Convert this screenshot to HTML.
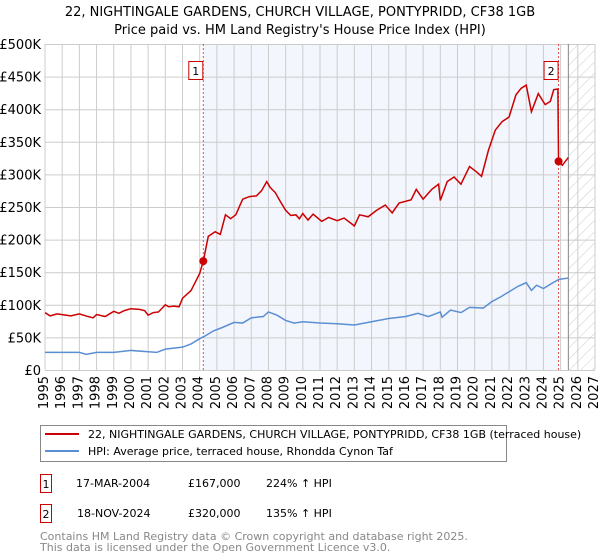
<!DOCTYPE html>
<html><head><meta charset="utf-8"><style>
body{margin:0;background:#fff;font-family:"DejaVu Sans","Liberation Sans",sans-serif;}
svg text{font-family:"DejaVu Sans","Liberation Sans",sans-serif;}
#wrap{position:relative;width:600px;height:560px;overflow:hidden;}
.xl{position:absolute;font-size:13px;line-height:13px;height:40px;width:14px;text-align:right;writing-mode:vertical-rl;writing-mode:sideways-lr;white-space:nowrap;color:#000;}
</style></head><body>
<div id="wrap">
<svg id="c" width="600" height="560" viewBox="0 0 600 560" xmlns="http://www.w3.org/2000/svg" style="position:absolute;left:0;top:0">
<defs><pattern id="hatch" width="8" height="8" patternUnits="userSpaceOnUse" patternTransform="rotate(45)"><line x1="0" y1="0" x2="0" y2="8" stroke="#ccc" stroke-width="1"/></pattern></defs>
<text x="300" y="16" text-anchor="middle" font-size="13" fill="#000">22, NIGHTINGALE GARDENS, CHURCH VILLAGE, PONTYPRIDD, CF38 1GB</text>
<text x="300" y="34" text-anchor="middle" font-size="13" fill="#000">Price paid vs. HM Land Registry's House Price Index (HPI)</text>
<g id="plot"></g>
<g>
<rect x="40.5" y="425.5" width="466" height="36" fill="#fff" stroke="#888"/>
<line x1="45" y1="434" x2="79" y2="434" stroke="#cc0000" stroke-width="2"/>
<text x="88" y="438" font-size="11">22, NIGHTINGALE GARDENS, CHURCH VILLAGE, PONTYPRIDD, CF38 1GB (terraced house)</text>
<line x1="45" y1="451" x2="79" y2="451" stroke="#5b8fd4" stroke-width="2"/>
<text x="88" y="455" font-size="11">HPI: Average price, terraced house, Rhondda Cynon Taf</text>
</g>
<g font-size="11">
<rect x="40.5" y="474.5" width="11" height="18" fill="#fff" stroke="#cc0000"/><text x="46" y="488" text-anchor="middle">1</text>
<text x="76" y="487">17-MAR-2004</text><text x="188" y="487">£167,000</text><text x="266" y="487">224% ↑ HPI</text>
<rect x="40.5" y="504.5" width="11" height="18" fill="#fff" stroke="#cc0000"/><text x="46" y="518" text-anchor="middle">2</text>
<text x="77" y="517">18-NOV-2024</text><text x="188" y="517">£320,000</text><text x="266" y="517">135% ↑ HPI</text>
</g>
<text x="40" y="540" font-size="11" fill="#888">Contains HM Land Registry data © Crown copyright and database right 2025.</text>
<text x="40" y="551" font-size="11" fill="#888">This data is licensed under the Open Government Licence v3.0.</text>
</svg>
</div>
<script>
const yTicks=[0,50,100,150,200,250,300,350,400,450,500];
const yTickLabels=["£0","£50K","£100K","£150K","£200K","£250K","£300K","£350K","£400K","£450K","£500K"];
const xYears=[1995,1996,1997,1998,1999,2000,2001,2002,2003,2004,2005,2006,2007,2008,2009,2010,2011,2012,2013,2014,2015,2016,2017,2018,2019,2020,2021,2022,2023,2024,2025,2026,2027];
const redT=[1995,1995.3,1995.7,1996,1996.5,1997,1997.5,1997.8,1998,1998.5,1999,1999.3,1999.6,2000,2000.5,2000.8,2001,2001.3,2001.6,2002,2002.2,2002.5,2002.8,2003,2003.5,2004,2004.21,2004.5,2004.9,2005.2,2005.5,2005.8,2006.1,2006.5,2006.9,2007.3,2007.6,2007.9,2008.1,2008.4,2008.7,2009,2009.3,2009.6,2009.8,2010,2010.3,2010.6,2011.1,2011.5,2012,2012.4,2013,2013.3,2013.8,2014.3,2014.8,2015.2,2015.6,2016.3,2016.6,2017,2017.5,2017.9,2018,2018.4,2018.8,2019.2,2019.7,2020.1,2020.4,2020.8,2021.2,2021.6,2022,2022.4,2022.7,2023,2023.3,2023.7,2024.1,2024.4,2024.6,2024.84,2024.88,2025.1,2025.45];
const redV=[88,83,86,85,83,86,82,80,85,82,90,87,91,94,93,91,84,88,89,100,97,98,97,110,122,148,167,205,212,208,238,232,238,262,266,267,275,289,280,272,258,245,237,238,232,240,230,239,228,234,229,233,221,238,235,245,253,241,256,261,277,262,277,285,260,289,296,285,312,304,297,337,368,381,388,422,432,437,396,424,407,412,430,431,320,314,326];
const blueT=[1995,1996,1997,1997.4,1998,1999,2000,2001,2001.5,2002,2003,2003.5,2004,2004.3,2004.8,2005.3,2006,2006.5,2007,2007.7,2008,2008.5,2009,2009.5,2010,2011,2012,2013,2014,2015,2016,2016.7,2017.3,2018,2018.1,2018.6,2019.2,2019.7,2020.5,2021,2021.5,2022,2022.5,2023,2023.3,2023.6,2024,2024.5,2024.9,2025.45];
const blueV=[27,27,27,24,27,27,30,28,27,32,35,40,48,52,60,65,73,72,80,82,89,84,76,72,74,72,71,69,74,79,82,87,82,89,81,92,88,96,95,105,112,120,128,134,122,130,125,133,139,141];
const sales=[{t:2004.21,v:167,n:"1"},{t:2024.88,v:320,n:"2"}];
const dataEnd=2025.45;
const X0=45,X1=595,Y0=370,Y1=44;
const xs=t=>X0+(t-1995)/(2027-1995)*(X1-X0);
const ys=v=>Y0-v/500*(Y0-Y1);
const NS="http://www.w3.org/2000/svg";
const g=document.getElementById('plot');
const wrap=document.getElementById('wrap');
function mk(tag,attrs,parent){const e=document.createElementNS(NS,tag);for(const k in attrs)e.setAttribute(k,attrs[k]);(parent||g).appendChild(e);return e;}
mk('rect',{x:X0,y:Y1,width:X1-X0,height:Y0-Y1,fill:'#fff'});
const sh=mk('rect',{x:xs(sales[0].t),y:Y1,width:xs(sales[1].t)-xs(sales[0].t),height:Y0-Y1,fill:'#eef2fc',opacity:0.7});


const ht=mk('rect',{x:xs(dataEnd),y:Y1,width:X1-xs(dataEnd),height:Y0-Y1,fill:'url(#hatch)'});


yTicks.forEach((v,i)=>{
  mk('line',{x1:X0,x2:X1,y1:ys(v)+0.5,y2:ys(v)+0.5,stroke:'#ccc'});
  const t=mk('text',{x:X0-4,y:ys(v)+5,'text-anchor':'end','font-size':13});
  t.textContent=yTickLabels[i];
  
  
});
xYears.forEach(yr=>{
  const x=xs(yr);
  mk('line',{x1:x,x2:x,y1:Y1,y2:Y0,stroke:'#ccc'});
  const d=document.createElement('div');
  d.className='xl';
  d.textContent=yr;
  d.style.left=(x-7)+'px';
  d.style.top=(Y0+6)+'px';
  
  
  wrap.appendChild(d);
});
const dl=mk('line',{x1:xs(dataEnd),x2:xs(dataEnd),y1:Y1,y2:Y0,stroke:'#888'});


sales.forEach(s=>{
  const l=mk('line',{x1:xs(s.t),x2:xs(s.t),y1:Y1,y2:Y0,stroke:'#e05050','stroke-dasharray':'2,2'});
  
  
  const b=mk('rect',{x:xs(s.t)-14.5,y:61.5,width:14,height:18,fill:'#fff',stroke:'#cc0000'});
  
  
  const t=mk('text',{x:xs(s.t)-7.5,y:75,'text-anchor':'middle','font-size':11});
  t.textContent=s.n;
});
const bp=mk('polyline',{points:blueT.map((t,i)=>xs(t)+','+ys(blueV[i])).join(' '),fill:'none',stroke:'#5b8fd4','stroke-width':1.5});


const rp=mk('polyline',{points:redT.map((t,i)=>xs(t)+','+ys(redV[i])).join(' '),fill:'none',stroke:'#cc0000','stroke-width':1.5});


sales.forEach(s=>{
  const c=mk('circle',{cx:xs(s.t),cy:ys(s.v),r:4,fill:'#cc0000'});
  
  
});
</script>
</body></html>
